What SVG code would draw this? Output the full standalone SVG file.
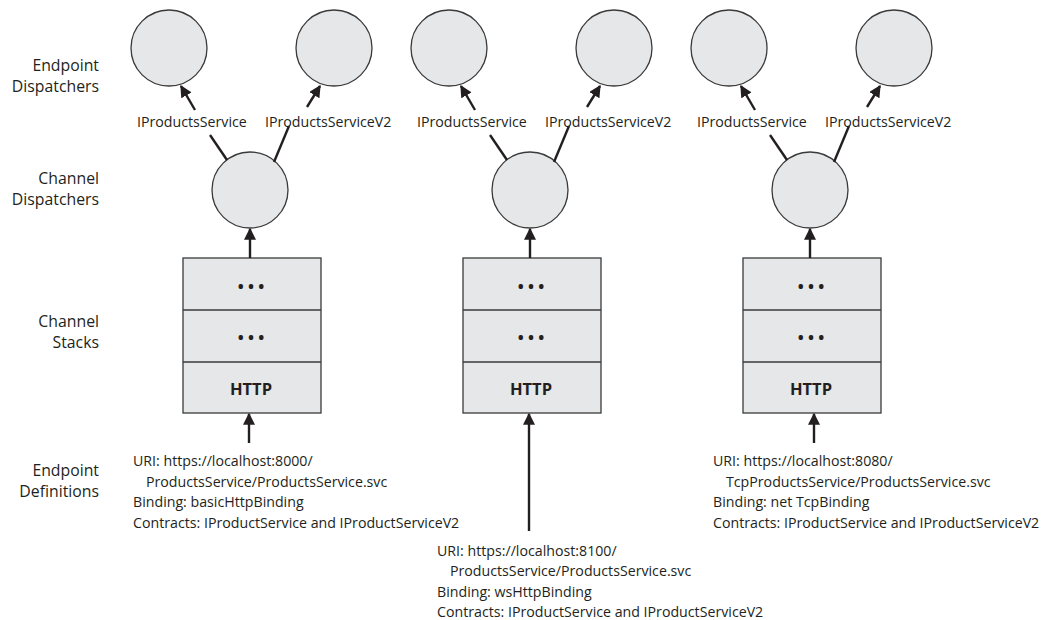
<svg xmlns="http://www.w3.org/2000/svg" width="1059" height="620" viewBox="0 0 1059 620">
<style>
text{font-family:"Open Sans","Noto Sans","Liberation Sans",sans-serif;fill:#231f20}
.lbl{font-size:15.8px;text-anchor:end}
.t{font-size:14.2px}
.dots{font-size:16px;text-anchor:middle;font-weight:bold}
.http{font-size:16.5px;font-weight:bold;text-anchor:middle}
.node{fill:#e6e7e8;stroke:#3a3a3a;stroke-width:1.3}
.ln{stroke:#231f20;stroke-width:2.4;fill:none}
.ar{stroke:#231f20;stroke-width:2.4;fill:none;marker-end:url(#ah)}
</style>
<defs>
<marker id="ah" viewBox="0 0 10 10" refX="9" refY="5" markerWidth="5" markerHeight="5" markerUnits="strokeWidth" orient="auto">
<path d="M0,0 L10,5 L0,10 z" fill="#231f20"/>
</marker>
</defs>
<g id="row-labels">
<text class="lbl" x="99" y="71">Endpoint</text>
<text class="lbl" x="99" y="92">Dispatchers</text>
<text class="lbl" x="99" y="184">Channel</text>
<text class="lbl" x="99" y="205">Dispatchers</text>
<text class="lbl" x="99" y="327">Channel</text>
<text class="lbl" x="99" y="348">Stacks</text>
<text class="lbl" x="99" y="476">Endpoint</text>
<text class="lbl" x="99" y="497">Definitions</text>
</g>
<g id="col1">
<g id="ed1a"><circle class="node" cx="169" cy="48" r="38"/></g>
<g id="ed1b"><circle class="node" cx="334" cy="48" r="38"/></g>
<g id="cd1"><circle class="node" cx="250" cy="190" r="38"/></g>
<g id="cs1">
<rect class="node" x="183" y="258" width="138" height="155"/>
<line class="node" x1="183" y1="310" x2="321" y2="310"/>
<line class="node" x1="183" y1="362" x2="321" y2="362"/>
<text class="dots" x="251" y="292">• • •</text>
<text class="dots" x="251" y="343">• • •</text>
<text class="http" x="251" y="395">HTTP</text>
</g>
<g id="def1">
<text class="t" x="133" y="466">URI: https://localhost:8000/</text>
<text class="t" x="146" y="486.5">ProductsService/ProductsService.svc</text>
<text class="t" x="133" y="507">Binding: basicHttpBinding</text>
<text class="t" x="133" y="527.5">Contracts: IProductService and IProductServiceV2</text>
</g>
</g>
<g id="col2" transform="translate(280,0)">
<g id="ed2a"><circle class="node" cx="169" cy="48" r="38"/></g>
<g id="ed2b"><circle class="node" cx="334" cy="48" r="38"/></g>
<g id="cd2"><circle class="node" cx="250" cy="190" r="38"/></g>
<g id="cs2">
<rect class="node" x="183" y="258" width="138" height="155"/>
<line class="node" x1="183" y1="310" x2="321" y2="310"/>
<line class="node" x1="183" y1="362" x2="321" y2="362"/>
<text class="dots" x="251" y="292">• • •</text>
<text class="dots" x="251" y="343">• • •</text>
<text class="http" x="251" y="395">HTTP</text>
</g>
</g>
<g id="def2">
<text class="t" x="437" y="555.5">URI: https://localhost:8100/</text>
<text class="t" x="450" y="576">ProductsService/ProductsService.svc</text>
<text class="t" x="437" y="596.5">Binding: wsHttpBinding</text>
<text class="t" x="437" y="617">Contracts: IProductService and IProductServiceV2</text>
</g>
<g id="col3" transform="translate(560,0)">
<g id="ed3a"><circle class="node" cx="169" cy="48" r="38"/></g>
<g id="ed3b"><circle class="node" cx="334" cy="48" r="38"/></g>
<g id="cd3"><circle class="node" cx="250" cy="190" r="38"/></g>
<g id="cs3">
<rect class="node" x="183" y="258" width="138" height="155"/>
<line class="node" x1="183" y1="310" x2="321" y2="310"/>
<line class="node" x1="183" y1="362" x2="321" y2="362"/>
<text class="dots" x="251" y="292">• • •</text>
<text class="dots" x="251" y="343">• • •</text>
<text class="http" x="251" y="395">HTTP</text>
</g>
</g>
<g id="def3">
<text class="t" x="713" y="466">URI: https://localhost:8080/</text>
<text class="t" x="726" y="486.5">TcpProductsService/ProductsService.svc</text>
<text class="t" x="713" y="507">Binding: net TcpBinding</text>
<text class="t" x="713" y="527.5">Contracts: IProductService and IProductServiceV2</text>
</g>
<g id="connectors">
<g id="conn1">
<line class="ln" x1="210" y1="135" x2="227" y2="160"/>
<line class="ln" x1="289" y1="126" x2="274" y2="162"/>
<line class="ar" x1="195" y1="110" x2="181" y2="86"/>
<line class="ar" x1="307" y1="107" x2="320" y2="86"/>
<line class="ar" x1="250" y1="258" x2="250" y2="229"/>
<line class="ar" x1="249" y1="443" x2="249" y2="414"/>
<text class="t" x="137" y="127">IProductsService</text>
<text class="t" x="265" y="127">IProductsServiceV2</text>
</g>
<g id="conn2" transform="translate(280,0)">
<line class="ln" x1="210" y1="135" x2="227" y2="160"/>
<line class="ln" x1="289" y1="126" x2="274" y2="162"/>
<line class="ar" x1="195" y1="110" x2="181" y2="86"/>
<line class="ar" x1="307" y1="107" x2="320" y2="86"/>
<line class="ar" x1="250" y1="258" x2="250" y2="229"/>
<line class="ar" x1="249" y1="531" x2="249" y2="414"/>
<text class="t" x="137" y="127">IProductsService</text>
<text class="t" x="265" y="127">IProductsServiceV2</text>
</g>
<g id="conn3" transform="translate(560,0)">
<line class="ln" x1="210" y1="135" x2="227" y2="160"/>
<line class="ln" x1="289" y1="126" x2="274" y2="162"/>
<line class="ar" x1="195" y1="110" x2="181" y2="86"/>
<line class="ar" x1="307" y1="107" x2="320" y2="86"/>
<line class="ar" x1="250" y1="258" x2="250" y2="229"/>
<line class="ar" x1="254" y1="443" x2="254" y2="414"/>
<text class="t" x="137" y="127">IProductsService</text>
<text class="t" x="265" y="127">IProductsServiceV2</text>
</g>
</g>
</svg>
